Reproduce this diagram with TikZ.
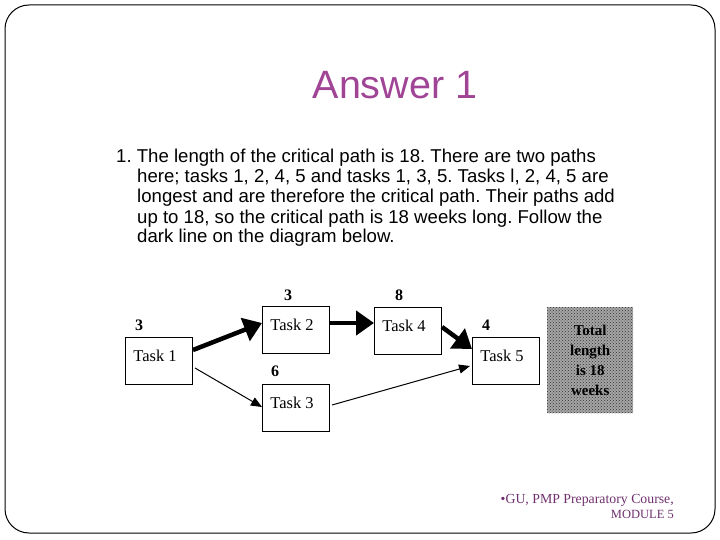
\documentclass[tikz,border=0pt]{standalone}
\usepackage{fontspec}
\setmainfont{Liberation Serif}
\setsansfont{Liberation Sans}
\usetikzlibrary{arrows.meta,calc,patterns}
\frenchspacing
\definecolor{titlepurple}{RGB}{160,68,150}
\definecolor{footpurple}{RGB}{112,48,110}
\definecolor{stipple}{RGB}{165,165,165}
\tikzset{
  taskbox/.style={draw=black,line width=1pt,minimum width=67pt,minimum height=47pt,inner sep=0pt,anchor=north west},
  tasktext/.style={font=\fontsize{16.5}{19}\selectfont,inner sep=0pt},
  durlabel/.style={font=\bfseries\fontsize{16}{18}\selectfont,inner sep=0pt},
  critarrow/.style={line width=4.5pt,-{Triangle[length=18pt,width=24pt]}},
  thinarrow/.style={line width=1pt,-{Triangle[length=11pt,width=9pt]}},
  bodyline/.style={anchor=base west,inner sep=0pt,font=\sffamily\fontsize{18.6}{20}\selectfont},
}
\begin{document}
\begin{tikzpicture}[x=1pt,y=-1pt]
\useasboundingbox (0,0) rectangle (720,540);
\draw[line width=1pt,rounded corners=24pt] (5,5) rectangle (715,533);
% title
\node[font=\sffamily\fontsize{39.5}{41}\selectfont,text=titlepurple,inner sep=0pt] (title) at (395,85) {Answer 1};
% body text
\node[bodyline] (l1) at (116,163) {1. The length of the critical path is 18. There are two paths};
\node[bodyline] (l2) at (137,183) {here; tasks 1, 2, 4, 5 and tasks 1, 3, 5. Tasks l, 2, 4, 5 are};
\node[bodyline] (l3) at (137,203) {longest and are therefore the critical path. Their paths add};
\node[bodyline] (l4) at (137,223) {up to 18, so the critical path is 18 weeks long. Follow the};
\node[bodyline] (l5) at (137,243) {dark line on the diagram below.};
% tasks
\node[taskbox] (t1) at (125,337) {};
\node[taskbox] (t2) at (262,306) {};
\node[taskbox] (t3) at (262,384) {};
\node[taskbox] (t4) at (374,307) {};
\node[taskbox] (t5) at (472,337) {};
\node[tasktext] (n1) at ($(t1.center)+(-4,-5)$) {Task 1};
\node[tasktext] (n2) at ($(t2.center)+(-4,-5)$) {Task 2};
\node[tasktext] (n3) at ($(t3.center)+(-4,-5)$) {Task 3};
\node[tasktext] (n4) at ($(t4.center)+(-4,-5)$) {Task 4};
\node[tasktext] (n5) at ($(t5.center)+(-4,-5)$) {Task 5};
% durations
\node[durlabel] (d1) at (139,325) {3};
\node[durlabel] (d2) at (288,295) {3};
\node[durlabel] (d4) at (399,295) {8};
\node[durlabel] (d3) at (275,371) {6};
\node[durlabel] (d5) at (486,325) {4};
% total box
\fill[stipple] (547,307) rectangle (633,413);
\fill[pattern=crosshatch dots,pattern color=gray!40!black] (547,307) rectangle (633,413);
\node[minimum width=86pt,minimum height=106pt,anchor=north west,inner sep=0pt,
  align=center,font=\bfseries\fontsize{15}{20}\selectfont] (total) at (547,307) {Total\\length\\is 18\\weeks};
% arrows
\draw[critarrow] ($(t1.east)+(0,-11)$) -- ($(t2.west)+(0,-7)$);
\draw[critarrow] ($(t2.east)+(0,-7)$) -- ($(t4.west)+(0,-8)$);
\draw[critarrow] ($(t4.east)+(0,-4)$) -- ($(t5.west)+(0,-12)$);
\draw[thinarrow] ($(t1.east)+(2,7)$) -- ($(t3.west)+(0,-1)$);
\draw[thinarrow] ($(t3.east)+(2,-3)$) -- ($(t5.west)+(-2,5)$);
% footer
\node[anchor=base east,inner sep=0pt,text=footpurple,font=\fontsize{13.8}{15}\selectfont] (f1) at (674,503) {\textbullet GU, PMP Preparatory Course,};
\node[anchor=base east,inner sep=0pt,text=footpurple,font=\fontsize{12.5}{14}\selectfont] (f2) at (674,518) {MODULE 5};
\end{tikzpicture}
\end{document}
